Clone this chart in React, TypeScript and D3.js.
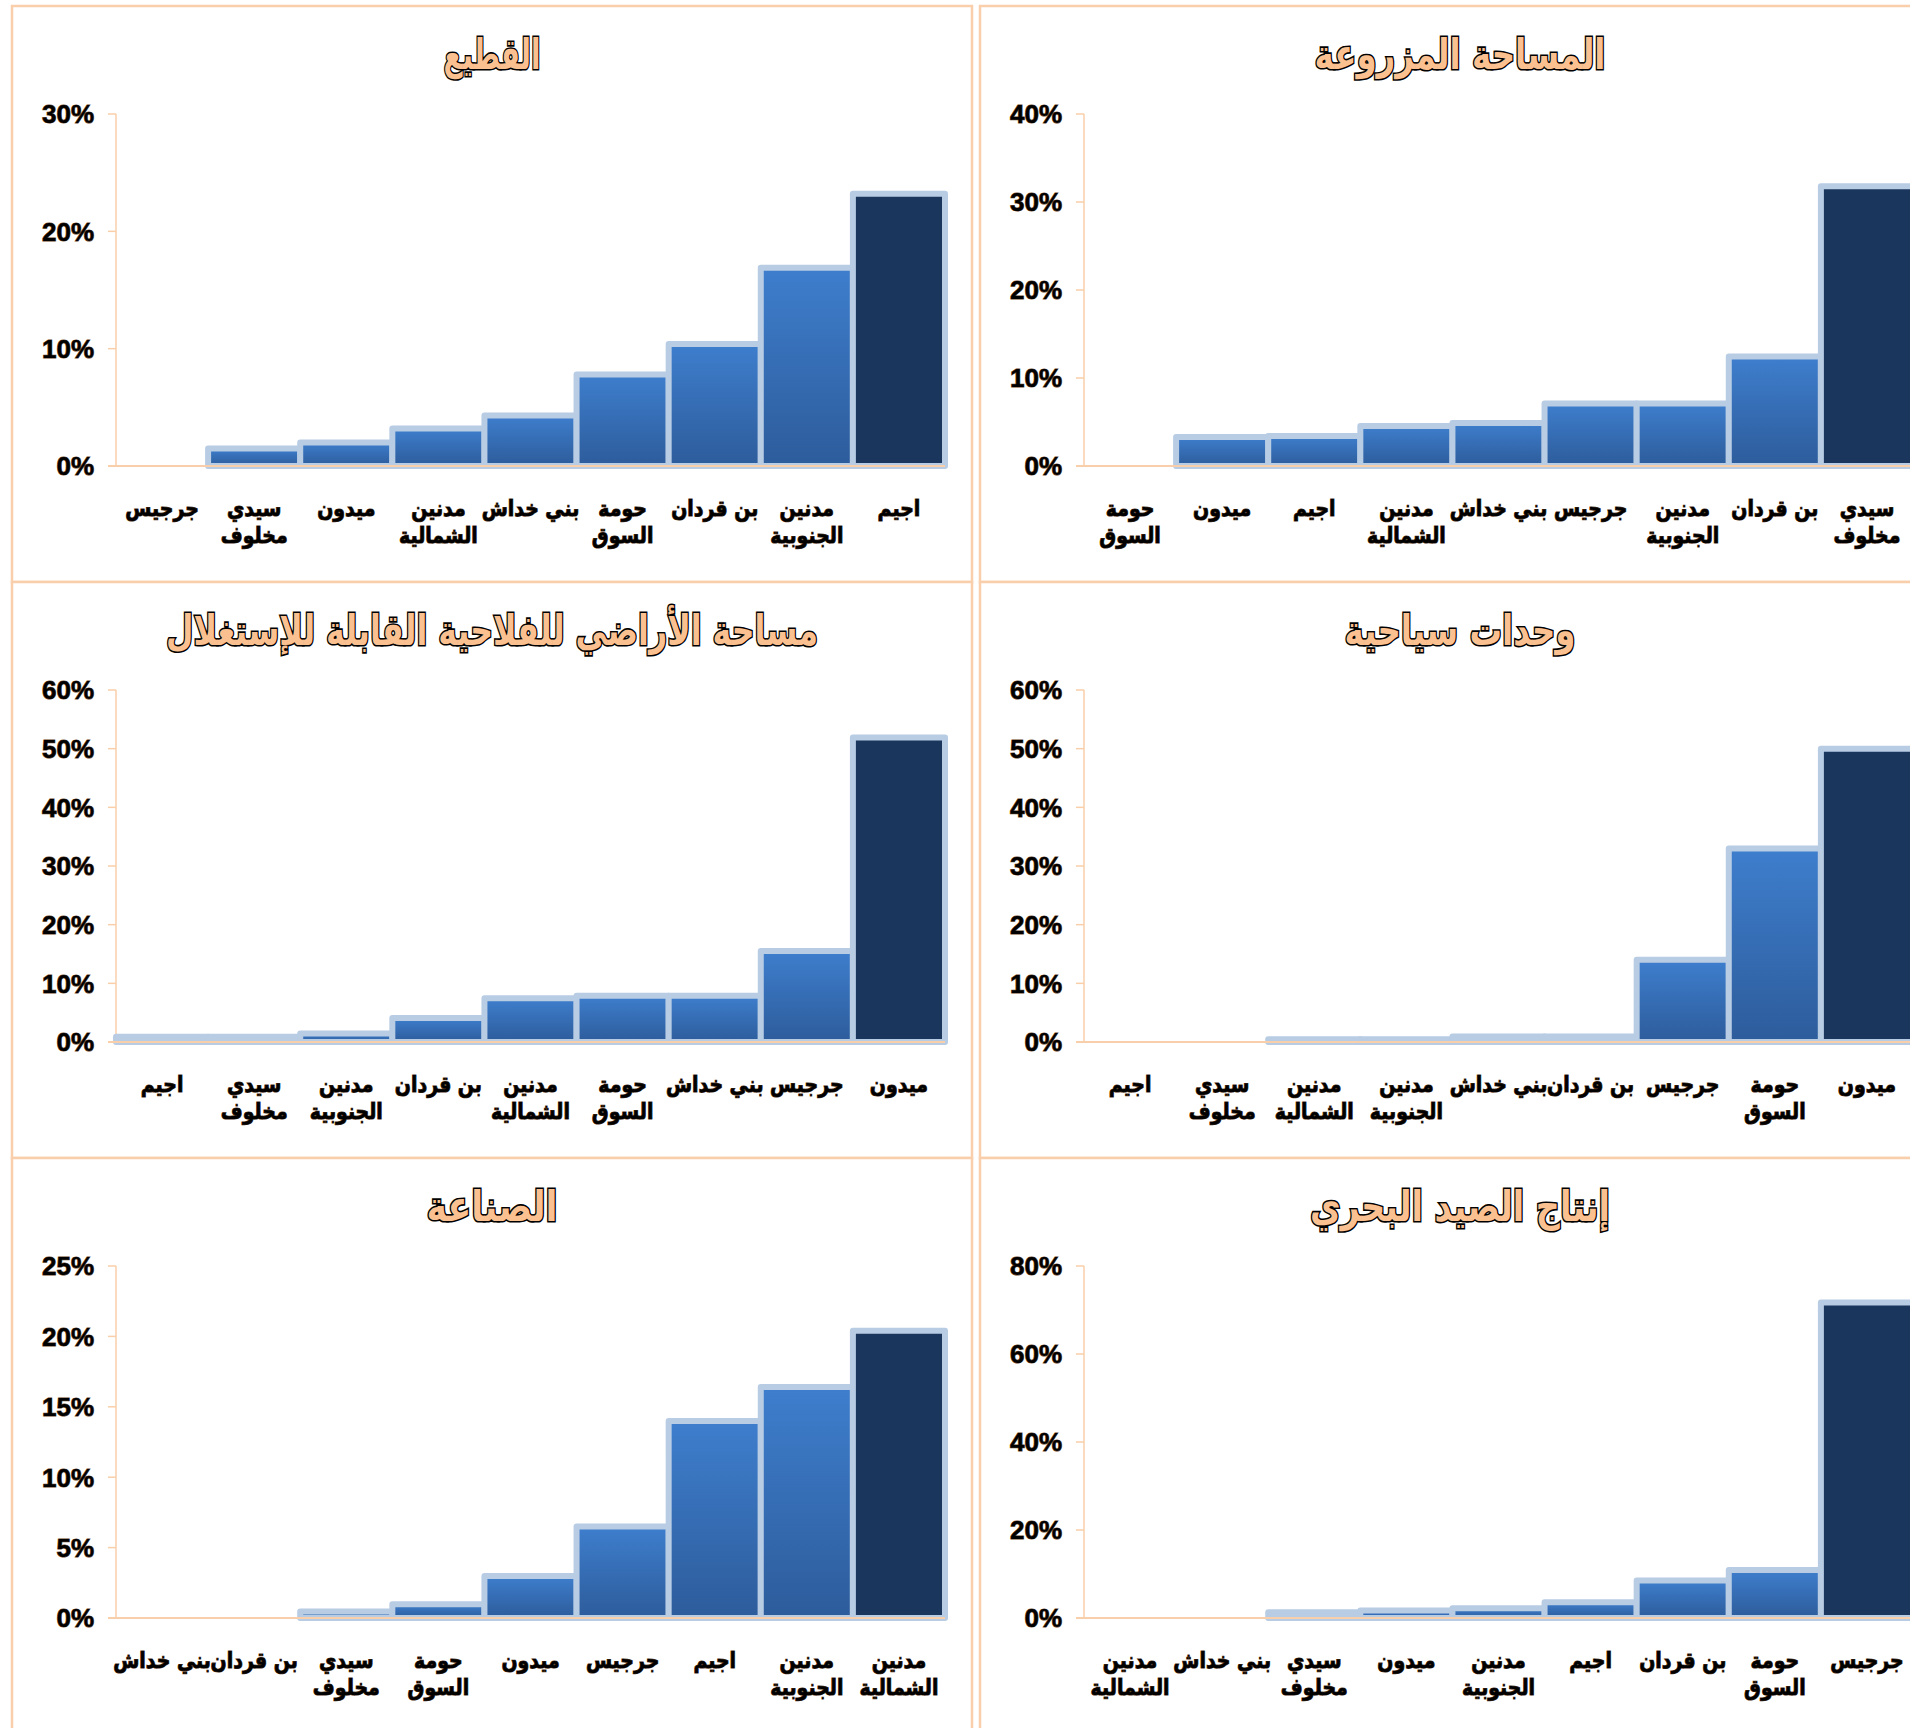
import * as d3 from "d3";

// القطيع
const herdCats = ["جرجيس", "سيدي مخلوف", "ميدون", "مدنين الشمالية", "بني خداش", "حومة السوق", "بن قردان", "مدنين الجنوبية", "اجيم"];
const herdVals = [0, 1.5, 2.0, 3.2, 4.3, 7.8, 10.4, 16.9, 23.2];

// المساحة المزروعة
const cropCats = ["حومة السوق", "ميدون", "اجيم", "مدنين الشمالية", "بني خداش", "جرجيس", "مدنين الجنوبية", "بن قردان", "سيدي مخلوف"];
const cropVals = [0, 3.3, 3.4, 4.55, 4.9, 7.1, 7.1, 12.45, 31.8];

// مساحة الأراضي للفلاحية القابلة للإستغلال
const landCats = ["اجيم", "سيدي مخلوف", "مدنين الجنوبية", "بن قردان", "مدنين الشمالية", "حومة السوق", "بني خداش", "جرجيس", "ميدون"];
const landVals = [0.9, 0.9, 1.45, 4.1, 7.45, 7.9, 7.9, 15.5, 51.9];

// وحدات سياحية
const tourCats = ["اجيم", "سيدي مخلوف", "مدنين الشمالية", "مدنين الجنوبية", "بني خداش", "بن قردان", "جرجيس", "حومة السوق", "ميدون"];
const tourVals = [0, 0, 0.45, 0.45, 0.95, 0.95, 14.0, 33.0, 50.0];

// الصناعة
const indCats = ["بني خداش", "بن قردان", "سيدي مخلوف", "حومة السوق", "ميدون", "جرجيس", "اجيم", "مدنين الجنوبية", "مدنين الشمالية"];
const indVals = [0, 0, 0.47, 0.98, 2.98, 6.5, 14.0, 16.4, 20.4];

// إنتاج الصيد البحري
const fishCats = ["مدنين الشمالية", "بني خداش", "سيدي مخلوف", "ميدون", "مدنين الجنوبية", "اجيم", "بن قردان", "حومة السوق", "جرجيس"];
const fishVals = [0, 0, 1.3, 1.7, 2.2, 3.6, 8.5, 10.9, 71.7];

const titles = [
  "القطيع",
  "المساحة المزروعة",
  "مساحة الأراضي للفلاحية القابلة للإستغلال",
  "وحدات سياحية",
  "الصناعة",
  "إنتاج الصيد البحري",
];
const yMax = [30, 40, 60, 60, 25, 80];
const yStep = [10, 10, 10, 10, 5, 20];

// two-line labels (as wrapped in the original)
const wrapped: Record<string, string[]> = {
  "سيدي مخلوف": ["سيدي", "مخلوف"],
  "مدنين الشمالية": ["مدنين", "الشمالية"],
  "مدنين الجنوبية": ["مدنين", "الجنوبية"],
  "حومة السوق": ["حومة", "السوق"],
};

const charts = [
  { title: titles[0], cats: herdCats, vals: herdVals, max: yMax[0], step: yStep[0], tw: 97 },
  { title: titles[1], cats: cropCats, vals: cropVals, max: yMax[1], step: yStep[1], tw: 291 },
  { title: titles[2], cats: landCats, vals: landVals, max: yMax[2], step: yStep[2], tw: 652 },
  { title: titles[3], cats: tourCats, vals: tourVals, max: yMax[3], step: yStep[3], tw: 231 },
  { title: titles[4], cats: indCats, vals: indVals, max: yMax[4], step: yStep[4], tw: 131 },
  { title: titles[5], cats: fishCats, vals: fishVals, max: yMax[5], step: yStep[5], tw: 300 },
];

const W = 1910;
const H = 1728;
const PW = 960;
const PH = 576;
const PEACH = "#f9cfab";
const AR_FONT = "'DejaVu Sans', sans-serif";
const NUM_FONT = "'Liberation Sans', Arial, sans-serif";

function Chart({ c, x0, y0 }: { c: (typeof charts)[number]; x0: number; y0: number }) {
  const left = x0 + 104;
  const x = d3.scaleBand<string>().domain(c.cats).range([left, left + 829]).padding(0);
  const y = d3.scaleLinear().domain([0, c.max]).range([y0 + 460, y0 + 108]);
  const ticks = d3.range(0, c.max + c.step / 2, c.step);
  const last = c.vals.length - 1;

  return (
    <g>
      <rect x={x0} y={y0} width={PW} height={PH} fill="#fff" stroke={PEACH} strokeWidth={2.5} />
      <text
        x={x0 + PW / 2}
        y={y0 + 63}
        textAnchor="middle"
        fontFamily={AR_FONT}
        fontWeight="bold"
        fontSize={42}
        fill="#fac090"
        stroke="#000"
        strokeWidth={3.2}
        paintOrder="stroke"
        textLength={c.tw}
        lengthAdjust="spacingAndGlyphs"
        direction="rtl"
      >
        {c.title}
      </text>

      {/* y axis */}
      <line x1={left} x2={left} y1={y(c.max)} y2={y(0)} stroke={PEACH} strokeWidth={1.5} />
      {ticks.map((t) => (
        <g key={t}>
          <line x1={left - 8} x2={left} y1={y(t)} y2={y(t)} stroke={PEACH} strokeWidth={1.5} />
          <text
            x={left - 22}
            y={y(t)}
            dy="0.36em"
            textAnchor="end"
            fontFamily={NUM_FONT}
            fontWeight="bold"
            fontSize={26}
            fill="#000"
            stroke="#6b4626"
            strokeWidth={1}
            paintOrder="stroke"
          >
            {t}%
          </text>
        </g>
      ))}

      {/* bars */}
      {c.cats.map((cat, i) => {
        const v = c.vals[i];
        if (v <= 0) return null;
        const bx = x(cat)!;
        const top = y(v);
        return (
          <rect
            key={cat}
            x={bx}
            y={top}
            width={x.bandwidth()}
            height={y(0) - top}
            fill={i === last ? "#1b365d" : "url(#barGrad)"}
            stroke="#b8cce4"
            strokeWidth={6}
            strokeLinejoin="round"
          />
        );
      })}

      <line x1={left - 8} x2={left + 829} y1={y(0)} y2={y(0)} stroke={PEACH} strokeWidth={2} />

      {/* category labels */}
      {c.cats.map((cat) => {
        const lines = wrapped[cat] ?? [cat];
        const cx = x(cat)! + x.bandwidth() / 2;
        return (
          <text
            key={cat}
            transform={`translate(${cx},0) scale(0.86,1)`}
            textAnchor="middle"
            fontFamily={AR_FONT}
            fontWeight="bold"
            fontSize={22}
            fill="#000"
            stroke="#4a2e14"
            strokeWidth={1.1}
            paintOrder="stroke"
            direction="rtl"
          >
            {lines.map((l, k) => (
              <tspan key={k} x={0} y={y0 + 510 + k * 27}>
                {l}
              </tspan>
            ))}
          </text>
        );
      })}
    </g>
  );
}

export default function App() {
  return (
    <div style={{ position: "absolute", left: 0, top: 0, width: W, height: H, overflow: "hidden", background: "#fff" }}>
      <svg width={W} height={H} viewBox={`0 0 ${W} ${H}`}>
        <defs>
          <linearGradient id="barGrad" x1="0" y1="0" x2="0" y2="1">
            <stop offset="0%" stopColor="#3e7ecd" />
            <stop offset="100%" stopColor="#2d5c9b" />
          </linearGradient>
        </defs>
        <rect width={W} height={H} fill="#fff" />
        {charts.map((c, i) => (
          <Chart key={i} c={c} x0={12 + (i % 2 === 0 ? 0 : 968)} y0={6 + Math.floor(i / 2) * PH} />
        ))}
      </svg>
    </div>
  );
}
